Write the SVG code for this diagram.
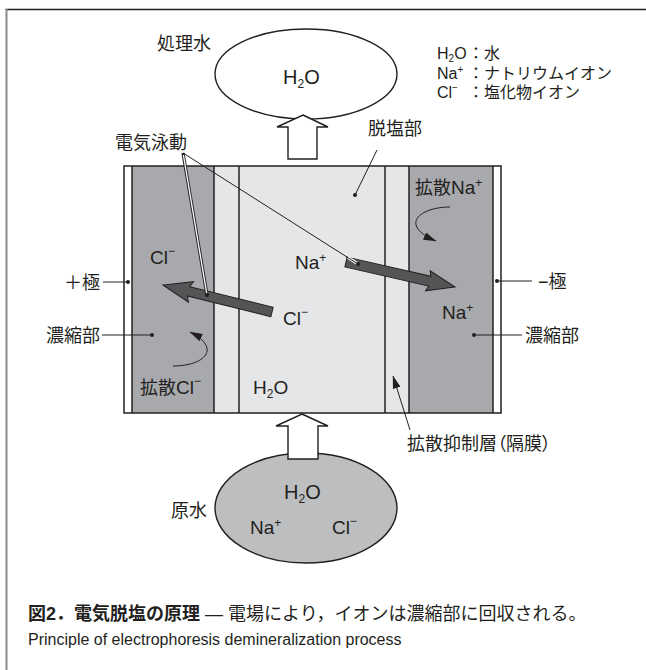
<svg xmlns="http://www.w3.org/2000/svg" width="646" height="670" viewBox="0 0 646 670">
<defs>
<style>
text { font-family: "Liberation Sans", "Noto Sans CJK JP", sans-serif; fill: #231f20; }
.jp { font-size: 18px; }
.ion { font-size: 19px; }
.big { font-size: 20px; }
.leg { font-size: 16px; }
.pal { font-feature-settings: "palt"; }
.ln { stroke: #231f20; stroke-width: 1; fill: none; }
.ol { stroke: #231f20; stroke-width: 1.4; }
.dot { fill: #231f20; }
.dark { fill: #a8a9ac; }
.light { fill: #e5e6e8; }
.ionarrow { fill: #545557; stroke: #231f20; stroke-width: 1; }
</style>
<marker id="ah" viewBox="0 0 13 8" refX="12.5" refY="4" markerWidth="13" markerHeight="8" markerUnits="userSpaceOnUse" orient="auto"><path d="M0,0 L13,4 L0,8 z" fill="#231f20"/></marker>
</defs>

<rect width="646" height="670" fill="#fff"/>
<line x1="5.5" y1="9.5" x2="646" y2="9.5" stroke="#231f20" stroke-width="1.6"/>
<line x1="6.5" y1="9" x2="6.5" y2="670" stroke="#8a8a8a" stroke-width="2"/>

<g id="cell">
  <rect x="124" y="166" width="8" height="247" fill="#fff"/>
  <rect x="132" y="166" width="82" height="247" class="dark"/>
  <rect x="214" y="166" width="195" height="247" class="light"/>
  <rect x="409" y="166" width="84" height="247" class="dark"/>
  <rect x="493" y="166" width="8" height="247" fill="#fff"/>
  <rect x="124" y="166" width="377" height="247" fill="none" stroke="#231f20" stroke-width="1.5"/>
  <g stroke="#231f20" stroke-width="1.5">
    <line x1="132" y1="166" x2="132" y2="413"/>
    <line x1="214" y1="166" x2="214" y2="413"/>
    <line x1="239" y1="166" x2="239" y2="413"/>
    <line x1="385" y1="166" x2="385" y2="413"/>
    <line x1="409" y1="166" x2="409" y2="413"/>
    <line x1="493" y1="166" x2="493" y2="413"/>
  </g>
  <text class="ion" x="150" y="264">Cl<tspan font-size="12" dy="-9">−</tspan></text>
  <text class="ion" x="295" y="269">Na<tspan font-size="12" dy="-7">+</tspan></text>
  <text class="ion" x="283" y="325">Cl<tspan font-size="12" dy="-9">−</tspan></text>
  <text class="ion" x="442" y="319">Na<tspan font-size="12" dy="-7">+</tspan></text>
  <text class="ion" x="253" y="394">H<tspan font-size="12" dy="4">2</tspan><tspan dy="-4">O</tspan></text>
  <text class="jp" x="140" y="394">拡散<tspan font-size="19">Cl</tspan><tspan font-size="12" dy="-9">−</tspan></text>
  <text class="jp" x="415" y="194">拡散<tspan font-size="19">Na</tspan><tspan font-size="12" dy="-7">+</tspan></text>
</g>

<g id="ion-arrows">
  <polygon class="ionarrow" transform="translate(272,312) rotate(193.91)" points="0,-4.8 86,-4.8 83.5,-10.5 112.3,0 83.5,10.5 86,4.8 0,4.8"/>
  <polygon class="ionarrow" transform="translate(346,262) rotate(12.92)" points="0,-5 86,-5 84,-10.3 111.8,0 84,10.3 86,5 0,5"/>
</g>

<g id="product-water">
  <ellipse cx="306" cy="74" rx="91" ry="45" fill="#fff" class="ol"/>
  <text class="big" x="283" y="84">H<tspan font-size="12" dy="4">2</tspan><tspan dy="-4">O</tspan></text>
  <text class="jp" x="157" y="50">処理水</text>
</g>

<g id="raw-water">
  <ellipse cx="306" cy="508" rx="91" ry="55" fill="#bcbec0" class="ol"/>
  <text class="big" x="284" y="499">H<tspan font-size="12" dy="4">2</tspan><tspan dy="-4">O</tspan></text>
  <text class="ion" x="250" y="534">Na<tspan font-size="12" dy="-7">+</tspan></text>
  <text class="ion" x="332" y="534">Cl<tspan font-size="12" dy="-9">−</tspan></text>
  <text class="jp" x="171" y="517">原水</text>
</g>

<g id="legend">
  <text class="leg" x="437" y="59">H<tspan font-size="10" dy="3">2</tspan><tspan dy="-3">O</tspan></text>
  <text class="leg" x="468" y="59">：水</text>
  <text class="leg" x="437" y="79">Na<tspan font-size="10" dy="-6">+</tspan></text>
  <text class="leg" x="468" y="79">：ナトリウムイオン</text>
  <text class="leg" x="437" y="98">Cl<tspan font-size="10" dy="-7">−</tspan></text>
  <text class="leg" x="468" y="98">：塩化物イオン</text>
</g>

<g id="labels">
  <text class="jp" x="115" y="149">電気泳動</text>
  <text class="jp" x="368" y="135">脱塩部</text>
  <text class="jp" x="100" y="289" text-anchor="end">＋極</text>
  <text class="jp" x="100" y="342" text-anchor="end">濃縮部</text>
  <text class="jp" x="538" y="288">−極</text>
  <text class="jp" x="525" y="342">濃縮部</text>
  <text class="jp pal" x="407" y="450">拡散抑制層（隔膜）</text>
</g>

<g id="connectors">
  <polygon points="303,115 328,127 317,127 317,159 288,159 288,127 277,127" fill="#fff" class="ol"/>
  <polygon points="302,414 328,426 318,426 318,459 288,459 288,426 276,426" fill="#fff" class="ol"/>
  <path d="M173,366 C205,366 222,348 190,332" class="ln" stroke-width="1.3" marker-end="url(#ah)"/>
  <path d="M450,207 C420,207 398,225 436,241" class="ln" stroke-width="1.3" marker-end="url(#ah)"/>
  <path d="M410,430 L393,376" class="ln" marker-end="url(#ah)"/>
  <line x1="103" y1="282" x2="128" y2="282" class="ln"/>
  <circle cx="128" cy="282" r="2" class="dot"/>
  <line x1="102" y1="335" x2="152" y2="335" class="ln"/>
  <circle cx="152" cy="335" r="2" class="dot"/>
  <line x1="497" y1="281" x2="532" y2="281" class="ln"/>
  <circle cx="497" cy="281" r="2" class="dot"/>
  <line x1="474" y1="335" x2="522" y2="335" class="ln"/>
  <circle cx="474" cy="335" r="2" class="dot"/>
  <line x1="377" y1="150" x2="355" y2="195" class="ln"/>
  <circle cx="355" cy="195" r="2" class="dot"/>
  <line x1="183" y1="153" x2="207" y2="295" stroke="#231f20" stroke-width="3.2"/>
  <line x1="183.4" y1="155" x2="207" y2="295" stroke="#fff" stroke-width="1.3"/>
  <circle cx="207" cy="295" r="2" class="dot"/>
  <line x1="183" y1="153" x2="358" y2="264" class="ln"/>
  <line x1="348" y1="257.6" x2="358" y2="264" stroke="#fff" stroke-width="3"/>
  <line x1="346" y1="256.4" x2="358" y2="264" class="ln"/>
  <circle cx="358" cy="264" r="2" class="dot"/>
</g>

<g id="caption">
  <text x="28" y="620" font-size="18"><tspan font-weight="bold">図2．電気脱塩の原理</tspan> — 電場により，イオンは濃縮部に回収される。</text>
  <text x="28" y="645" font-size="16">Principle of electrophoresis demineralization process</text>
</g>
</svg>
